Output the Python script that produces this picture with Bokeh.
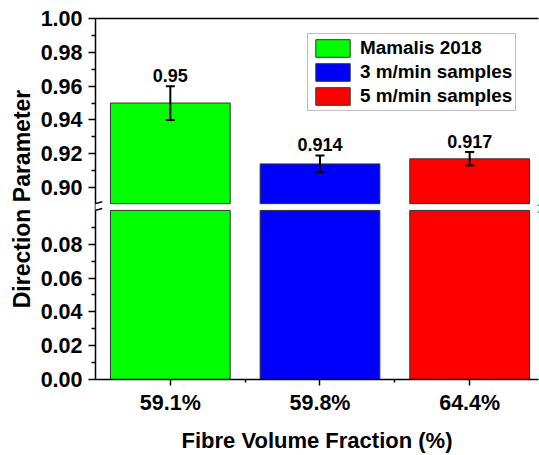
from bokeh.plotting import figure
from bokeh.models import (ColumnDataSource, Range1d, FixedTicker, LinearAxis, Legend,
                          LegendItem, Whisker, TeeHead, BoxAnnotation, Arrow)
from bokeh.core.properties import value
from bokeh.embed import file_html
from bokeh.resources import INLINE

# ---------------- data ----------------
categories = ["59.1%", "59.8%", "64.4%"]
series = ["Mamalis 2018", "3 m/min samples", "5 m/min samples"]
values = [0.95, 0.914, 0.917]
errors = [0.010, 0.005, 0.004]
value_labels = ["0.95", "0.914", "0.917"]
colors = ["#00ff00", "#0000ff", "#ff0000"]

lower_ticks = [0.00, 0.02, 0.04, 0.06, 0.08]
lower_tick_labels = ["0.00", "0.02", "0.04", "0.06", "0.08"]
upper_ticks = [0.90, 0.92, 0.94, 0.96, 0.98, 1.00]
upper_tick_labels = ["0.90", "0.92", "0.94", "0.96", "0.98", "1.00"]
lower_minor = [0.01, 0.03, 0.05, 0.07, 0.09]
upper_minor = [0.91, 0.93, 0.95, 0.97, 0.99]

# broken axis segments
LOW_MAX = 0.10
UP_MIN = 0.8905
UP_MAX = 1.00
GAP = 0.004
SHIFT = UP_MIN - (LOW_MAX + GAP)


def vy(v):
    """map a real value onto the broken-axis plotting coordinate"""
    return v if v <= LOW_MAX else v - SHIFT


FONT = "Liberation Sans"
xs = [i + 1 for i in range(len(categories))]

src = ColumnDataSource(dict(
    x=xs,
    low_top=[LOW_MAX] * len(xs),
    up_bottom=[LOW_MAX + GAP] * len(xs),
    top=[vy(v) for v in values],
    upper=[vy(v + e) for v, e in zip(values, errors)],
    lower=[vy(v - e) for v, e in zip(values, errors)],
    label=value_labels,
    color=colors,
))

p = figure(width=539, height=455,
           x_range=Range1d(0.5, 3.46), y_range=Range1d(0, vy(UP_MAX)),
           output_backend="svg", toolbar_location=None,
           min_border_left=95, min_border_right=1, min_border_top=18, min_border_bottom=75)
p.outline_line_color = None
p.xgrid.visible = False
p.ygrid.visible = False
p.background_fill_color = "white"
p.border_fill_color = "white"

# bars (two pieces per category: below and above the break)
p.vbar(x="x", width=0.8, bottom=0, top="low_top", fill_color="color",
       line_color="#333333", line_width=1, source=src)
up = p.vbar(x="x", width=0.8, bottom="up_bottom", top="top", fill_color="color",
            line_color="#333333", line_width=1, source=src)

# error bars
p.add_layout(Whisker(base="x", upper="upper", lower="lower", source=src,
                     line_color="black", line_width=2, level="overlay",
                     upper_head=TeeHead(size=9, line_width=2, line_color="black"),
                     lower_head=TeeHead(size=9, line_width=2, line_color="black")))

# value labels
p.text(x="x", y="upper", text="label", source=src, text_align="center",
       text_baseline="bottom", y_offset=-4, text_color="black",
       text_font=value(FONT), text_font_style="bold", text_font_size="18px")

# y axis
ya = p.yaxis[0]
ya.ticker = FixedTicker(ticks=[vy(t) for t in lower_ticks + upper_ticks],
                        minor_ticks=[vy(t) for t in lower_minor + upper_minor])
ya.major_label_overrides = {vy(t): s for t, s in
                            zip(lower_ticks + upper_ticks, lower_tick_labels + upper_tick_labels)}
ya.axis_label = "Direction Parameter"

# x axis
xa = p.xaxis[0]
xa.ticker = FixedTicker(ticks=xs, minor_ticks=[1.5, 2.5])
xa.major_label_overrides = {x: c for x, c in zip(xs, categories)}
xa.axis_label = "Fibre Volume Fraction (%)"

for ax in (ya, xa):
    ax.axis_line_color = "black"
    ax.axis_line_width = 1.5
    ax.major_tick_line_color = "black"
    ax.major_tick_line_width = 1.5
    ax.minor_tick_line_color = "black"
    ax.minor_tick_line_width = 1.5
    ax.major_tick_in = 0
    ax.minor_tick_in = 0
    ax.major_label_text_font = FONT
    ax.major_label_text_font_style = "bold"
    ax.major_label_text_font_size = "21.5px"
    ax.major_label_text_color = "black"
    ax.axis_label_text_font = FONT
    ax.axis_label_text_font_style = "bold"
    ax.axis_label_text_font_size = "22px"
    ax.axis_label_text_color = "black"

ya.axis_label_text_font_size = "23px"
ya.major_tick_out = 7
ya.minor_tick_out = 4
ya.major_label_standoff = 6
ya.axis_label_standoff = 3
xa.major_tick_out = 6
xa.minor_tick_out = 3
xa.major_label_standoff = 5
xa.axis_label_standoff = 10

# top frame line
top_axis = LinearAxis(ticker=FixedTicker(ticks=[]), major_tick_out=0, minor_tick_out=0,
                      major_label_text_font_size="0px", axis_line_width=1.5,
                      axis_line_color="black")
p.add_layout(top_axis, "above")

# axis break: white gap and break marks (left axis, and the cropped right axis)
p.add_layout(BoxAnnotation(left=0.3, right=0.56, bottom=LOW_MAX, top=LOW_MAX + GAP,
                           fill_color="white", fill_alpha=1, line_alpha=0, level="overlay"))
for xb in (0.5, 3.5):
    for yb in (LOW_MAX, LOW_MAX + GAP):
        p.add_layout(Arrow(x_start=xb - 0.045, y_start=yb - 0.0011,
                           x_end=xb + 0.045, y_end=yb + 0.0011,
                           start=None, end=None, line_color="black", line_width=1.5,
                           level="overlay"))

# legend
legend = Legend(items=[LegendItem(label=s, renderers=[up], index=i) for i, s in enumerate(series)],
                location=(212, 268), orientation="vertical",
                border_line_color="#808080", border_line_width=1,
                background_fill_color="white", background_fill_alpha=1,
                padding=3, spacing=2, margin=0,
                glyph_width=43, glyph_height=22, label_height=22, label_standoff=6,
                label_text_font=FONT, label_text_font_style="bold",
                label_text_font_size="18.9px", label_text_color="black")
p.add_layout(legend)

open("out.html", "w").write(file_html(p, INLINE))
